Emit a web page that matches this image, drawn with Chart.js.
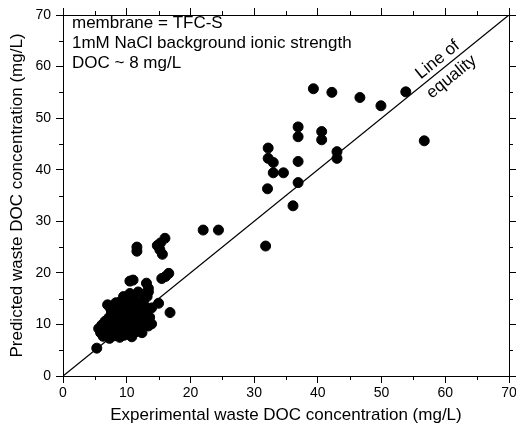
<!DOCTYPE html>
<html>
<head>
<meta charset="utf-8">
<script src="https://cdn.jsdelivr.net/npm/chart.js@4"></script>
<style>
  body { margin: 0; background: #fff; }
  #wrap { width: 516px; height: 432px; }
</style>
</head>
<body>
<div id="wrap"><canvas id="chartCanvas"></canvas></div>
<script>
// experimental (x) og predicted (y) waste DOC, mg/L
let expDOC = [
  5.3, 5.6, 5.9, 6.1, 6.3, 6.5, 6.6, 6.8, 7.0, 7.0, 7.2, 7.3, 7.5, 7.6, 7.8, 7.9, 8.0, 8.1, 8.2, 8.3,
  8.4, 8.5, 8.6, 8.7, 8.8, 8.9, 9.0, 9.1, 9.2, 9.3, 9.4, 9.5, 9.5, 9.6, 9.7, 9.8, 9.9, 10.0, 10.0, 10.1,
  10.2, 10.3, 10.4, 10.5, 10.5, 10.6, 10.7, 10.8, 10.9, 11.0, 11.0, 11.1, 11.2, 11.3, 11.4, 11.5, 11.6, 11.8, 11.8, 11.9,
  12.0, 12.1, 12.3, 12.5, 12.7, 13.1, 13.0, 13.1, 13.4, 13.4, 13.4, 13.6, 13.9, 13.9, 15.0, 16.8, 12.4, 9.0, 8.3, 7.5,
  12.8, 13.2,
  11.6, 11.6, 14.8, 15.2, 15.6, 16.0, 15.3, 15.5, 16.1, 16.6,
  22.0, 24.4, 31.8, 32.1, 32.2, 32.2, 33.0, 33.0, 34.6, 36.1, 36.9, 36.9, 36.9, 36.9, 40.6, 40.6, 43.0, 43.0,
  39.3, 42.2, 46.6, 49.9, 53.8, 56.7
]
let predDOC = [
  5.4, 9.2, 8.4, 9.9, 7.7, 8.9, 10.6, 9.4, 8.1, 13.8, 11.3, 7.3, 10.0, 12.4, 8.8, 9.6, 11.8, 7.8, 10.4, 12.9,
  9.1, 8.2, 11.0, 13.3, 9.8, 7.5, 10.6, 12.2, 8.7, 11.5, 13.1, 15.4, 9.3, 7.9, 10.9, 12.6, 8.5, 14.3, 11.2, 9.7,
  13.5, 8.1, 12.0, 16.0, 18.4, 10.3, 15.0, 7.6, 11.6, 18.6, 9.0, 13.1, 10.0, 14.6, 12.3, 8.6, 11.0, 16.3, 9.5, 13.8,
  10.6, 12.7, 9.9, 11.5, 14.9, 18.0, 12.9, 9.8, 17.0, 9.7, 16.3, 11.4, 10.1, 13.2, 14.1, 12.3, 8.4, 14.4, 14.2, 13.0,
  13.6, 15.4,
  25.0, 24.2, 25.3, 24.5, 23.6, 26.7, 25.8, 18.9, 19.3, 19.9,
  28.3, 28.3, 25.2, 36.3, 44.2, 42.2, 41.4, 39.4, 39.4, 33.0, 37.5, 41.6, 46.4, 48.3, 47.4, 45.8, 43.5, 42.2,
  55.7, 55.0, 54.0, 52.4, 55.1, 45.6
]
let equalityLine = [0, 70]
let axisMin = 0
let axisMax = 70
let majorStep = 10
let minorTicks = [5, 15, 25, 35, 45, 55, 65]
let infoLines = ['membrane = TFC-S', '1mM NaCl background ionic strength', 'DOC ~ 8 mg/L']
let xTitle = 'Experimental waste DOC concentration (mg/L)'
let yTitle = 'Predicted waste DOC concentration (mg/L)'

let points = expDOC.map((x, i) => ({ x: x, y: predDOC[i] }))
let lineData = equalityLine.map(v => ({ x: v, y: v }))

const fontFam = 'Arial, "Liberation Sans", sans-serif'

// små ticks imellem de store (5, 15, ...)
const minorTickPlugin = {
  id: 'minorTicks',
  afterDraw(chart) {
    const ctx = chart.ctx
    const a = chart.chartArea
    ctx.save()
    ctx.strokeStyle = '#000'
    ctx.lineWidth = 1
    ctx.beginPath()
    minorTicks.forEach(v => {
      let px = Math.round(chart.scales.x.getPixelForValue(v)) + 0.5
      let py = Math.round(chart.scales.y.getPixelForValue(v)) + 0.5
      ctx.moveTo(px, a.bottom); ctx.lineTo(px, a.bottom + 4)
      ctx.moveTo(px, a.top); ctx.lineTo(px, a.top - 4)
      ctx.moveTo(a.left, py); ctx.lineTo(a.left - 4, py)
      ctx.moveTo(a.right, py); ctx.lineTo(a.right + 4, py)
    })
    ctx.stroke()
    ctx.restore()
  }
}

// tekster inde i plottet
const textPlugin = {
  id: 'texts',
  afterDatasetsDraw(chart) {
    const ctx = chart.ctx
    const a = chart.chartArea
    ctx.save()
    ctx.fillStyle = '#000'
    ctx.font = '17px ' + fontFam
    ctx.textBaseline = 'alphabetic'
    ctx.textAlign = 'left'
    infoLines.forEach((t, i) => {
      ctx.fillText(t, a.left + 9, a.top + 13 + i * 20)
    })
    // "Line of equality" langs linjen
    const sx = chart.scales.x, sy = chart.scales.y
    const x0 = sx.getPixelForValue(0), y0 = sy.getPixelForValue(0)
    const x1 = sx.getPixelForValue(70), y1 = sy.getPixelForValue(70)
    const ang = Math.atan2(y1 - y0, x1 - x0)
    const cx = sx.getPixelForValue(59.8), cy = sy.getPixelForValue(59.8)
    ctx.translate(cx, cy)
    ctx.rotate(ang)
    ctx.textAlign = 'center'
    ctx.textBaseline = 'middle'
    ctx.font = '17px ' + fontFam
    ctx.fillText('Line of', 0, -10)
    ctx.fillText('equality', 0, 12)
    ctx.restore()
  }
}

const tickFont = { family: fontFam, size: 14 }
const titleFont = { family: fontFam, size: 17 }

function axis(pos, title, fitSize) {
  let horiz = pos === 'bottom' || pos === 'top'
  return {
    type: 'linear',
    position: pos,
    min: axisMin,
    max: axisMax,
    ticks: {
      stepSize: majorStep,
      display: title !== null,
      color: '#000',
      font: tickFont,
      padding: horiz ? 2 : 5,
      maxRotation: 0
    },
    grid: {
      drawOnChartArea: false,
      drawTicks: true,
      tickLength: 7,
      tickColor: '#000',
      tickWidth: 1
    },
    border: { display: true, color: '#000', width: 1 },
    title: title === null ? { display: false } : {
      display: true,
      text: title,
      color: '#000',
      font: titleFont,
      padding: horiz ? { top: 0, bottom: 6 } : { top: 7, bottom: 0 }
    },
    afterFit: s => {
      if (horiz) s.height = fitSize
      else s.width = fitSize
      // ingen ekstra plads til halve labels i enderne
      s.paddingLeft = 0
      s.paddingRight = 0
      s.paddingTop = 0
      s.paddingBottom = 0
    }
  }
}

let chart = new Chart(document.getElementById('chartCanvas'), {
  type: 'scatter',
  data: {
    datasets: [
      {
        type: 'line',
        data: lineData,
        borderColor: '#000',
        borderWidth: 1.3,
        pointRadius: 0,
        fill: false,
        order: 2
      },
      {
        data: points,
        backgroundColor: '#000',
        borderColor: '#000',
        borderWidth: 1,
        pointRadius: 5,
        order: 1
      }
    ]
  },
  options: {
    responsive: true,
    maintainAspectRatio: false,
    animation: false,
    layout: { padding: 0 },
    plugins: {
      legend: { display: false },
      tooltip: { enabled: false }
    },
    scales: {
      x: axis('bottom', xTitle, 56),
      y: axis('left', yTitle, 63),
      x2: axis('top', null, 15),
      y2: axis('right', null, 7)
    }
  },
  plugins: [minorTickPlugin, textPlugin]
})
</script>
</body>
</html>
